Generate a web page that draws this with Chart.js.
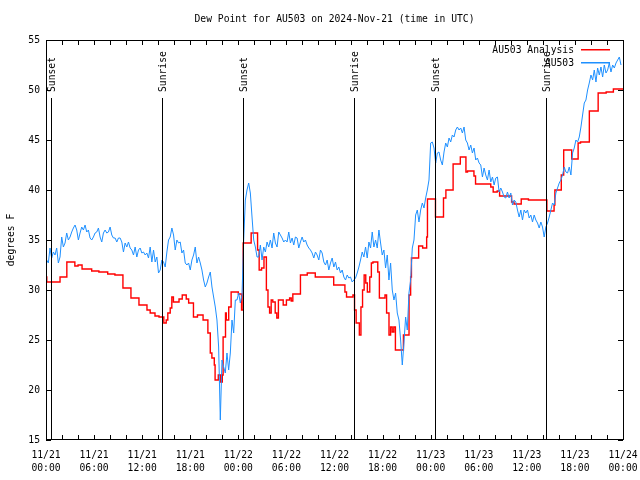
<!DOCTYPE html>
<html>
<head>
<meta charset="utf-8">
<script src="https://cdn.jsdelivr.net/npm/chart.js@4.4.1/dist/chart.umd.min.js"></script>
<style>
html,body{margin:0;padding:0;background:#fff}
#c{display:block}
</style>
</head>
<body>
<canvas id="c" width="640" height="480"></canvas>
<script>
// ---- Text ----
const TITLE = "Dew Point for AU503 on 2024-Nov-21 (time in UTC)";
const Y_TITLE = "degrees F";
const FONT = "9.7px 'DejaVu Sans Mono', monospace";

// ---- Axes ----
const tickDates = ["11/21","11/21","11/21","11/21","11/22","11/22","11/22","11/22","11/23","11/23","11/23","11/23","11/24"];
const tickTimes = ["00:00","06:00","12:00","18:00","00:00","06:00","12:00","18:00","00:00","06:00","12:00","18:00","00:00"];
const X_MAX_HOURS = 72, X_LABEL_STEP = 6, X_TICK_STEP = 2;
const Y_MIN = 15, Y_MAX = 55, Y_STEP = 5;

// ---- Sun events (hours since 11/21 00:00 UTC) ----
const eventHours = [0.63, 14.45, 24.63, 38.45, 48.58, 62.42];
const eventNames = ["Sunset","Sunrise","Sunset","Sunrise","Sunset","Sunrise"];
const EVENT_TOP = 49.2;

// ---- Analysis (stepped), hours / degF ----
const redHours = [0,0.1,1.75,2.6,3.6,4.0,4.5,5.7,6.6,7.7,8.6,9.6,10.6,11.6,12.6,13.0,13.6,14.1,14.7,15.0,
  15.2,15.5,15.7,15.9,16.6,17.0,17.5,17.8,18.4,18.9,19.6,20.2,20.5,20.7,21.0,21.1,21.5,21.8,22.0,22.1,
  22.4,22.5,22.8,23.1,24.0,24.4,24.6,25.6,26.4,26.6,26.9,27.2,27.5,27.7,27.9,28.1,28.3,28.6,28.8,29.0,
  29.6,30.0,30.4,30.6,30.8,31.75,32.6,33.6,35.9,37.3,37.5,38.3,38.5,38.7,39.1,39.3,39.5,39.7,39.9,40.1,
  40.4,40.6,40.8,41.4,41.6,42.3,42.5,42.8,43.0,43.2,43.4,43.6,44.6,45.3,45.5,45.6,46.5,47.0,47.5,47.6,
  48.6,49.6,49.9,50.8,51.7,52.4,52.6,53.4,53.6,55.5,55.8,56.3,56.6,58.1,58.4,59.3,60.2,62.5,63.4,63.5,
  64.3,64.6,65.6,66.4,66.7,67.8,68.9,69.9,70.8,72];
const redValues = [31.3,30.8,31.3,32.8,32.4,32.5,32.1,31.9,31.8,31.6,31.5,30.2,29.2,28.5,28.0,27.7,27.4,27.3,26.7,27.0,
  27.7,28.2,29.3,28.8,29.1,29.5,29.1,28.7,27.3,27.5,27.0,25.7,23.7,23.2,22.5,21.0,21.5,20.8,21.5,25.3,
  27.7,27.0,28.3,29.8,29.6,28.0,34.7,35.7,34.0,32.0,32.2,33.3,30.0,28.3,27.7,29.0,28.8,27.7,27.2,29.0,
  28.5,29.0,29.2,28.9,29.6,31.5,31.7,31.3,30.5,29.8,29.3,29.5,28.0,26.7,25.5,28.3,30.0,31.5,30.7,29.8,
  31.3,32.7,32.8,31.8,29.2,29.5,27.7,25.5,26.3,25.8,26.3,24.0,25.5,29.5,31.3,33.2,34.4,34.2,35.3,39.1,
  37.3,39.2,40.0,42.6,43.3,41.8,41.9,41.4,40.6,40.3,39.8,39.9,39.4,38.8,38.6,39.1,39.0,37.9,38.5,40.0,
  41.5,44.0,43.1,44.7,44.8,47.9,49.7,49.8,50.1,50.1];

// ---- Station obs, one every 12.5 min from 00:05 ----
const OBS_START_MIN = 5, OBS_INTERVAL_MIN = 12.5;
const blueValues = [
  33.0,32.7,34.2,33.2,33.8,33.5,34.2,32.7,33.3,35.3,34.3,34.7,35.7,35.0,35.3,35.8,36.2,36.5,36.0,35.0,
  35.7,36.3,36.0,36.5,35.8,36.0,35.2,35.0,35.3,35.7,35.8,36.2,35.3,34.8,35.7,36.0,35.7,35.8,36.3,35.5,
  35.2,35.2,34.8,35.2,35.2,34.8,33.8,34.7,34.3,34.8,34.2,34.0,33.5,34.3,33.3,34.0,34.2,33.7,33.8,33.5,
  33.7,33.2,34.3,32.8,34.0,32.8,
  33.3,31.7,32.0,33.0,32.8,32.3,33.8,35.0,35.3,36.2,35.5,34.0,35.0,34.7,34.8,33.7,34.0,32.7,32.5,32.7,
  32.0,33.0,33.5,34.3,32.7,33.3,32.7,32.0,31.0,30.3,30.7,31.3,31.8,30.3,29.3,28.3,27.0,24.3,17.0,23.0,
  22.3,21.7,23.7,22.0,23.7,27.0,25.7,29.0,29.0,29.7,28.7,29.5,
  35.0,39.0,40.0,40.7,39.7,37.3,35.0,34.3,33.3,33.3,34.5,33.0,34.3,33.8,34.8,34.3,35.0,34.2,35.7,34.7,
  34.3,35.8,35.5,35.2,34.8,35.0,34.8,35.8,34.7,35.2,34.5,35.3,35.2,34.2,34.8,35.3,34.8,35.0,34.5,34.2,
  34.0,33.7,33.2,33.8,33.5,33.0,34.0,33.7,32.8,32.5,33.0,32.0,32.7,33.2,32.3,32.8,32.0,32.3,31.7,32.0,
  31.3,31.0,31.5,31.2,31.3,30.8,31.0,
  31.2,31.7,32.3,33.0,33.8,33.3,34.3,33.2,34.8,34.2,35.8,34.3,35.0,34.2,36.0,34.7,33.5,34.0,32.2,33.5,
  31.0,32.7,30.0,29.0,29.7,27.7,27.0,25.0,22.5,24.7,27.3,26.0,29.7,31.0,34.2,35.0,37.5,38.0,36.8,38.0,
  38.7,38.2,39.2,40.0,41.0,
  44.7,44.8,44.2,42.7,43.7,43.8,43.0,42.5,43.8,44.7,44.3,45.2,44.8,45.5,45.3,46.0,46.3,46.0,46.2,45.7,
  46.3,45.0,44.7,44.0,44.5,43.7,44.2,43.0,43.2,42.7,42.5,41.3,42.2,41.5,41.0,42.0,40.8,41.3,40.5,41.2,
  41.3,39.8,40.2,39.8,39.3,39.2,39.8,39.2,39.7,38.5,39.0,38.8,38.0,37.3,38.0,37.0,38.0,37.7,38.0,37.2,
  37.5,36.8,37.5,37.0,36.7,36.2,36.8,36.3,35.3,36.3,36.7,37.3,
  38.0,38.7,38.5,39.7,40.2,40.7,41.0,41.5,42.3,41.8,41.7,42.3,41.5,43.7,44.2,45.0,44.8,45.3,46.3,47.5,
  48.7,49.0,50.0,50.7,51.5,51.0,52.0,50.8,52.2,51.5,52.3,51.3,52.5,51.7,52.0,52.7,51.8,52.5,52.2,52.7,
  53.0,53.3,52.5
];

const RED = "#ff0000", BLUE = "#1e90ff";
const legendNames = ["AU503 Analysis", "AU503"];
const legendColors = [RED, BLUE];

// ---- Build points ----
const redPts = redHours.map((h,i)=>({x:h, y:redValues[i]}));
const bluePts = blueValues.map((v,i)=>({x:(OBS_START_MIN + i*OBS_INTERVAL_MIN)/60, y:v}));

// ---- gnuplot-like frame, ticks, events, legend ----
const decor = {
  id: "decor",
  beforeDraw(c){
    const ctx = c.ctx;
    ctx.save(); ctx.fillStyle = "#fff"; ctx.fillRect(0,0,c.width,c.height); ctx.restore();
  },
  afterDatasetsDraw(c){
    const {ctx, chartArea:a, scales:{x,y}} = c;
    ctx.save();
    ctx.strokeStyle = "#000"; ctx.fillStyle = "#000"; ctx.lineWidth = 1;
    ctx.font = FONT;

    // sunrise / sunset markers
    eventHours.forEach((h,i)=>{
      const px = Math.round(x.getPixelForValue(h)) + 0.5;
      const top = Math.round(y.getPixelForValue(EVENT_TOP));
      ctx.beginPath(); ctx.moveTo(px, a.bottom); ctx.lineTo(px, top); ctx.stroke();
      ctx.save();
      ctx.translate(px + 1, top - 6);
      ctx.rotate(-Math.PI/2);
      ctx.textAlign = "left"; ctx.textBaseline = "middle";
      ctx.fillText(eventNames[i], 0, 0);
      ctx.restore();
    });

    // frame
    ctx.strokeRect(a.left + 0.5, a.top + 0.5, a.width, a.height - 1);

    // ticks (inward, mirrored)
    const TL = 5;
    ctx.beginPath();
    for (let h = 0; h <= X_MAX_HOURS; h += X_TICK_STEP){
      const px = Math.round(x.getPixelForValue(h)) + 0.5;
      ctx.moveTo(px, a.bottom); ctx.lineTo(px, a.bottom - TL);
      ctx.moveTo(px, a.top); ctx.lineTo(px, a.top + TL);
    }
    for (let v = Y_MIN; v <= Y_MAX; v += Y_STEP){
      const py = Math.round(y.getPixelForValue(v)) + 0.5;
      ctx.moveTo(a.left, py); ctx.lineTo(a.left + TL, py);
      ctx.moveTo(a.right, py); ctx.lineTo(a.right - TL, py);
    }
    ctx.stroke();

    // legend
    ctx.textAlign = "right"; ctx.textBaseline = "middle";
    legendNames.forEach((name,i)=>{
      const ly = 50 + i*13;
      ctx.fillStyle = "#000";
      ctx.fillText(name, 574, ly);
      ctx.fillStyle = legendColors[i];
      ctx.fillRect(581, ly - 1, 29, 1.5);
    });

    // title and y title
    ctx.fillStyle = "#000";
    ctx.textAlign = "center"; ctx.textBaseline = "middle";
    ctx.fillText(TITLE, (a.left + a.right)/2, 19);
    ctx.save();
    ctx.translate(11, (a.top + a.bottom)/2);
    ctx.rotate(-Math.PI/2);
    ctx.fillText(Y_TITLE, 0, 0);
    ctx.restore();
    ctx.restore();
  }
};

const tickFont = {family:"'DejaVu Sans Mono', monospace", size:9.7, lineHeight:1.35};

new Chart(document.getElementById("c").getContext("2d"), {
  type: "line",
  data: {
    datasets: [
      {label: legendNames[1], data: bluePts, borderColor: BLUE, borderWidth: 1, pointRadius: 0, tension: 0, order: 0},
      {label: legendNames[0], data: redPts, borderColor: RED, borderWidth: 1.4, pointRadius: 0, stepped: "before", order: 1}
    ]
  },
  options: {
    responsive: false, animation: false, devicePixelRatio: 1,
    layout: {padding: {top: 40, right: 17, left: 0, bottom: 0}},
    plugins: {legend: {display: false}, tooltip: {enabled: false}, title: {display: false}},
    scales: {
      x: {
        type: "linear", min: 0, max: X_MAX_HOURS,
        afterFit(s){ s.height = 40; s.paddingLeft = 0; s.paddingRight = 0; },
        grid: {display: false, drawTicks: false}, border: {display: false},
        ticks: {
          stepSize: X_LABEL_STEP, autoSkip: false, maxRotation: 0, padding: 9,
          color: "#000", font: tickFont,
          callback: v => { const i = Math.round(v / X_LABEL_STEP); return [tickDates[i], tickTimes[i]]; }
        }
      },
      y: {
        min: Y_MIN, max: Y_MAX,
        afterFit(s){ s.width = 46; s.paddingTop = 0; s.paddingBottom = 0; },
        grid: {display: false, drawTicks: false}, border: {display: false},
        ticks: {stepSize: Y_STEP, padding: 6, color: "#000", font: tickFont}
      }
    }
  },
  plugins: [decor]
});
</script>
</body>
</html>
